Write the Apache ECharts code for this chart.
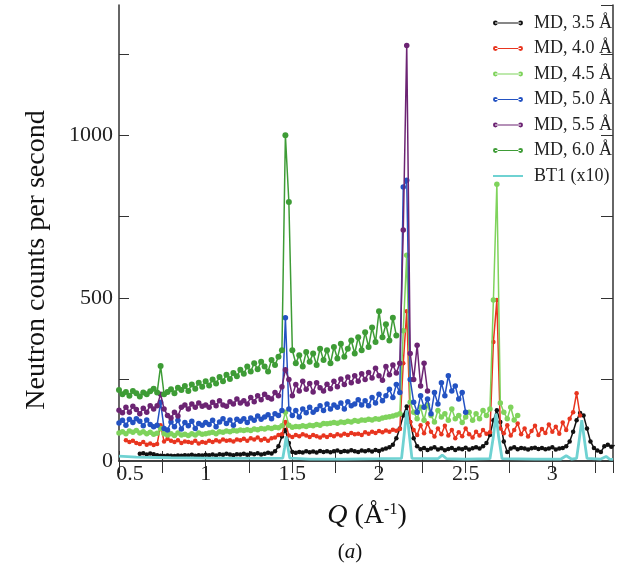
<!DOCTYPE html>
<html>
<head>
<meta charset="utf-8">
<script src="https://cdn.jsdelivr.net/npm/echarts@6/dist/echarts.min.js"></script>
<style>html,body{margin:0;padding:0;background:#fff;}#c{width:627px;height:565px;}</style>
</head>
<body>
<div id="c"></div>
<script>
// ---- data (Q step 0.02) ----
const seriesNames = ['MD, 3.5 Å','MD, 4.0 Å','MD, 4.5 Å','MD, 5.0 Å','MD, 5.5 Å','MD, 6.0 Å','BT1 (x10)'];
const qStep = 0.02;
const md35Start = 0.62;
const md35 = [22,24,20,23,21,18,16,15,17,16,
  15,17,16,18,17,19,16,18,17,19,
  18,20,17,21,19,22,20,18,21,20,
  22,19,23,21,24,20,22,25,23,30,
  45,75,95,55,28,
  25,28,26,30,27,29,26,31,28,30,
  27,30,32,28,31,29,33,30,28,32,
  30,33,29,34,31,35,38,42,
  50,70,100,140,167,120,70,45,
  36,40,34,38,42,35,39,33,37,40,34,38,36,41,35,39,42,38,45,55,
  80,125,156,120,60,28,
  38,42,36,40,38,35,39,41,37,40,36,38,42,35,38,40,45,
  60,90,125,147,140,100,60,40,32,28,45,50,44,48];
const md40Start = 0.54;
const md40 = [64,58,62,55,52,58,50,54,49,52,
  110,60,
  68,62,58,64,55,60,58,56,62,54,58,
  56,62,58,64,60,66,62,64,60,66,
  64,68,62,70,66,72,64,68,62,70,72,80,
  82,120,78,
  74,80,76,82,78,74,80,76,72,78,
  74,80,76,82,78,84,80,86,82,84,
  80,88,84,90,86,92,88,94,90,96,93,
  98,300,460,120,
  95,80,110,85,116,90,75,100,82,108,78,95,70,88,76,100,82,72,90,78,95,84,88,
  365,494,100,
  85,110,78,95,115,82,100,75,92,108,80,98,86,112,90,105,84,118,95,130,150,
  208,140];
const md45Start = 0.50;
const md45 = [86,90,84,92,88,94,86,90,84,88,82,
  85,100,84,
  80,84,78,86,80,82,78,84,80,86,82,84,
  86,88,84,90,88,92,90,94,92,95,
  94,96,94,98,96,100,98,102,100,104,102,108,
  150,110,
  104,106,105,108,106,110,108,112,110,115,114,
  116,118,116,120,118,122,120,124,122,126,
  125,128,126,130,128,132,134,136,138,141,
  145,400,632,180,
  150,130,165,125,172,140,120,155,135,145,125,160,130,140,118,
  135,150,125,145,130,155,140,160,
  494,850,178,
  150,130,165,126,140];
const md50Start = 0.50;
const md50 = [117,125,110,128,118,130,122,108,126,112,105,
  110,180,100,
  95,120,105,125,98,118,108,122,100,115,110,118,
  112,125,105,120,130,115,126,110,128,122,
  130,118,132,125,138,128,135,142,130,145,140,155,
  440,160,
  140,155,135,160,148,165,150,158,170,155,175,
  160,172,165,178,160,182,170,175,188,172,
  185,170,195,178,205,185,200,220,195,235,
  210,841,862,250,
  180,150,200,165,190,145,210,175,240,200,262,215,230,190,210,150];
const md55Start = 0.50;
const md55 = [156,148,165,150,168,158,145,162,150,170,160,
  170,205,160,
  140,132,150,138,165,172,160,175,165,178,168,172,
  165,180,170,185,172,168,182,175,190,178,
  185,175,195,182,200,188,205,195,190,210,200,228,
  280,250,
  200,235,215,245,220,238,212,240,225,215,236,
  222,245,228,252,235,258,240,262,245,268,
  250,272,255,285,262,248,290,265,295,270,
  300,709,1276,
  330,250,355,230,300,215];
const md60Start = 0.50;
const md60 = [218,205,212,200,215,208,198,210,205,214,222,
  210,292,205,
  212,220,208,225,218,230,215,235,222,240,228,245,
  232,250,238,258,245,265,252,270,260,280,
  268,290,275,300,282,305,290,275,310,295,320,340,
  1000,795,
  340,300,325,290,335,305,330,295,345,310,340,
  300,350,315,360,320,345,370,330,380,340,
  395,350,410,365,460,380,420,370,440,385];
const bt1Q = [0.50,0.60,0.80,1.00,1.20,1.40,1.445,1.455,1.465,1.475,1.485,1.60,1.80,2.00,2.13,2.145,2.16,2.175,2.19,2.34,2.365,2.39,2.50,2.64,2.66,2.675,2.69,2.71,2.90,3.05,3.08,3.11,3.14,3.155,3.17,3.185,3.20,3.28,3.31,3.33,3.35];
const bt1V = [15,12,10,9,8,8,9,40,75,40,9,6,6,7,8,80,155,80,8,7,18,7,6,7,75,145,75,7,6,6,16,6,8,65,125,65,8,6,14,6,5];
const xTicks = [0.5,1,1.5,2,2.5,3];
const yTicks = [0,500,1000];

const colors = ['#111111','#e8351f','#7fd35c','#2352c2','#6c2473','#3e9c36','#6fd2d2'];

function mk(start, vals){ return vals.map((v,i)=>[+(start+i*qStep).toFixed(3), v]); }

const mdSets = [[md35Start,md35],[md40Start,md40],[md45Start,md45],[md50Start,md50],[md55Start,md55],[md60Start,md60]];
const symSizes = [4.5,4.5,5.5,5.5,5.5,6];

const series = mdSets.map((s,k)=>({
  name: seriesNames[k], type:'line', data: mk(s[0], s[1]),
  symbol:'circle', symbolSize: symSizes[k], showSymbol:true,
  lineStyle:{color:colors[k], width:1.5}, itemStyle:{color:colors[k]},
  z: 2+k, clip:true
}));
series.push({
  name: seriesNames[6], type:'line', data: bt1Q.map((q,i)=>[q,bt1V[i]]),
  symbol:'none', lineStyle:{color:colors[6], width:2.8}, itemStyle:{color:colors[6]}, z:10, clip:true
});

const dotIcon = 'path://M2,2.4 L28,2.4 L28,3.6 L2,3.6 Z M0,3 A2.4,2.4 0 1,0 4.8,3 A2.4,2.4 0 1,0 0,3 Z M25.2,3 A2.4,2.4 0 1,0 30,3 A2.4,2.4 0 1,0 25.2,3 Z';
const lineIcon = 'path://M0,2 L30,2 L30,4 L0,4 Z';

const serif = '"Liberation Serif","Times New Roman",serif';
const fmtX = v => {
  if (!xTicks.some(t=>Math.abs(t-v)<1e-6)) return '';
  return Math.abs(v - xTicks[0]) < 1e-6 ? '{first|' + v + '}' : String(v);
};
const fmtY = v => yTicks.some(t=>Math.abs(t-v)<1e-6) ? String(v) : '';

const chart = echarts.init(document.getElementById('c'), null, {renderer:'canvas'});
chart.setOption({
  animation:false,
  backgroundColor:'#fff',
  color: colors,
  grid:{left:119, right:14, top:5, bottom:104},
  legend:{
    orient:'vertical', right:10, top:9, itemGap:7.5, itemWidth:30, itemHeight:6,
    textStyle:{fontFamily:serif, fontSize:18, color:'#222', lineHeight:18, padding:[0,0,0,6]},
    data: seriesNames.map((n,i)=>({name:n, icon: i<6 ? dotIcon : lineIcon}))
  },
  xAxis:[{
    type:'value', min:0.5, max:3.35, interval:0.25, position:'bottom',
    axisLine:{lineStyle:{color:'#333', width:1.5}},
    axisTick:{inside:true, length:10, lineStyle:{color:'#333'}},
    axisLabel:{formatter:fmtX, fontFamily:serif, fontSize:22, color:'#222', margin:2, showMaxLabel:false,
      rich:{first:{fontFamily:serif, fontSize:22, color:'#222', padding:[0,0,0,22]}}},
    splitLine:{show:false}
  },{
    type:'value', min:0.5, max:3.35, interval:0.25, position:'top',
    axisLine:{lineStyle:{color:'#333', width:1.5}},
    axisTick:{inside:true, length:12, lineStyle:{color:'#333'}},
    axisLabel:{show:false}, splitLine:{show:false}
  }],
  yAxis:[{
    type:'value', min:0, max:1400, interval:250, position:'left',
    axisLine:{show:true, lineStyle:{color:'#333', width:1.5}},
    axisTick:{show:true, inside:true, length:10, lineStyle:{color:'#333'}},
    axisLabel:{formatter:fmtY, fontFamily:serif, fontSize:22, color:'#222', margin:6, showMaxLabel:false},
    splitLine:{show:false}
  },{
    type:'value', min:0, max:1400, interval:250, position:'right',
    axisLine:{show:true, lineStyle:{color:'#333', width:1.5}},
    axisTick:{show:true, inside:true, length:12, lineStyle:{color:'#333'}},
    axisLabel:{show:false}, splitLine:{show:false}
  }],
  graphic:[
    {type:'text', x:37, y:260, rotation:Math.PI/2,
     style:{text:'Neutron counts per second', font:'28px '+serif, fill:'#111', align:'center', verticalAlign:'middle'}},
    {type:'text', x:367, y:516,
     style:{text:'{i|Q} (Å{s|-1})', font:'28px '+serif, fill:'#111', align:'center', verticalAlign:'middle',
       rich:{i:{fontStyle:'italic', fontFamily:serif, fontSize:28, fill:'#111'}, s:{fontFamily:serif, fontSize:16, verticalAlign:'top', padding:[0,0,12,0], fill:'#111'}}}},
    {type:'text', x:350, y:552,
     style:{text:'({i|a})', font:'21px '+serif, fill:'#111', align:'center', verticalAlign:'middle',
       rich:{i:{fontStyle:'italic', fontFamily:serif, fontSize:21, fill:'#111'}}}}
  ],
  series: series
});
</script>
</body>
</html>
